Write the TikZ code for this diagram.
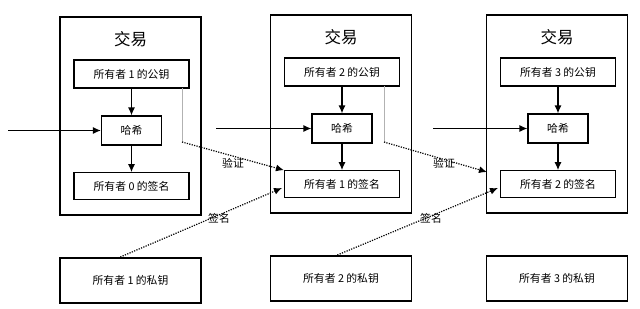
\documentclass[tikz,border=0pt]{standalone}
\usepackage{fontspec}
\setmainfont{Noto Sans CJK SC}
\usetikzlibrary{arrows.meta,calc}
\begin{document}
\begin{tikzpicture}[x=1pt,y=-1pt,
  box/.style={draw=black,line width=1.2pt,inner sep=0pt,font=\fontsize{10.8}{12}\selectfont},
  arr/.style={line width=1.2pt,-{Latex[length=8pt,width=7pt]}},
  dotarr/.style={line width=1.2pt,dash pattern=on 1.2pt off 1.3pt,-{Latex[length=8pt,width=7pt]}},
  lab/.style={font=\fontsize{10.8}{12}\selectfont,inner sep=1pt}]
\useasboundingbox (0,0) rectangle (640,308);
\fill[white] (0,0) rectangle (640,308);
\foreach \i/\cx/\dy/\n/\m in {1/130.5/0/1/0, 2/341/-2/2/1, 3/557/-2/3/2}{
  \node[box,minimum width=141pt,minimum height=198pt] (t\i) at (\cx,116+\dy) {};
  \node[font=\fontsize{16.5}{18}\selectfont,inner sep=0pt] (title\i) at (\cx,39+\dy) {交易};
  \node[box,minimum width=115pt,minimum height=28pt] (pub\i) at (\cx+1,74+\dy) {所有者 \n\ 的公钥};
  \node[box,minimum width=60pt,minimum height=29pt] (hash\i) at (\cx+1,130.5+\dy) {哈希};
  \node[box,minimum width=115pt,minimum height=26.5pt] (sig\i) at (\cx+1,186+\dy) {所有者 \m\ 的签名};
  \node[box,minimum width=141pt,minimum height=45pt] (priv\i) at (\cx,280.5+\dy) {所有者 \n\ 的私钥};
  \draw[arr] (pub\i) -- (hash\i);
  \draw[arr] (hash\i) -- (sig\i);
}
\coordinate (in1) at (8,130.5);
\coordinate (in2) at (216,128.5);
\coordinate (in3) at (433,128.5);
\foreach \i in {1,2,3}{
  \draw[arr] (in\i) -- (hash\i.west);
}
% verify lines
\coordinate (v1a) at (182,88);
\coordinate (v1b) at (182,142);
\coordinate (v2a) at (384,86);
\coordinate (v2b) at (384,142);
\coordinate (v3end) at (487,172);
\draw[gray!60,line width=0.8pt] (v1a) -- (v1b);
\draw[gray!60,line width=0.8pt] (v2a) -- (v2b);
\draw[dotarr] (v1b) -- (sig2.north west);
\draw[dotarr] (v2b) -- (v3end);
% sign lines
\coordinate (s1) at (118,258);
\coordinate (s2) at (335,256);
\coordinate (s2end) at (282,188);
\coordinate (s3end) at (498,188);
\draw[dotarr] (s1) -- (s2end);
\draw[dotarr] (s2) -- (s3end);
% labels
\node[lab] (lv1) at (233,163) {验证};
\node[lab] (lv2) at (444,163) {验证};
\node[lab] (ls1) at (219,218) {签名};
\node[lab] (ls2) at (431,218) {签名};
\end{tikzpicture}
\end{document}
